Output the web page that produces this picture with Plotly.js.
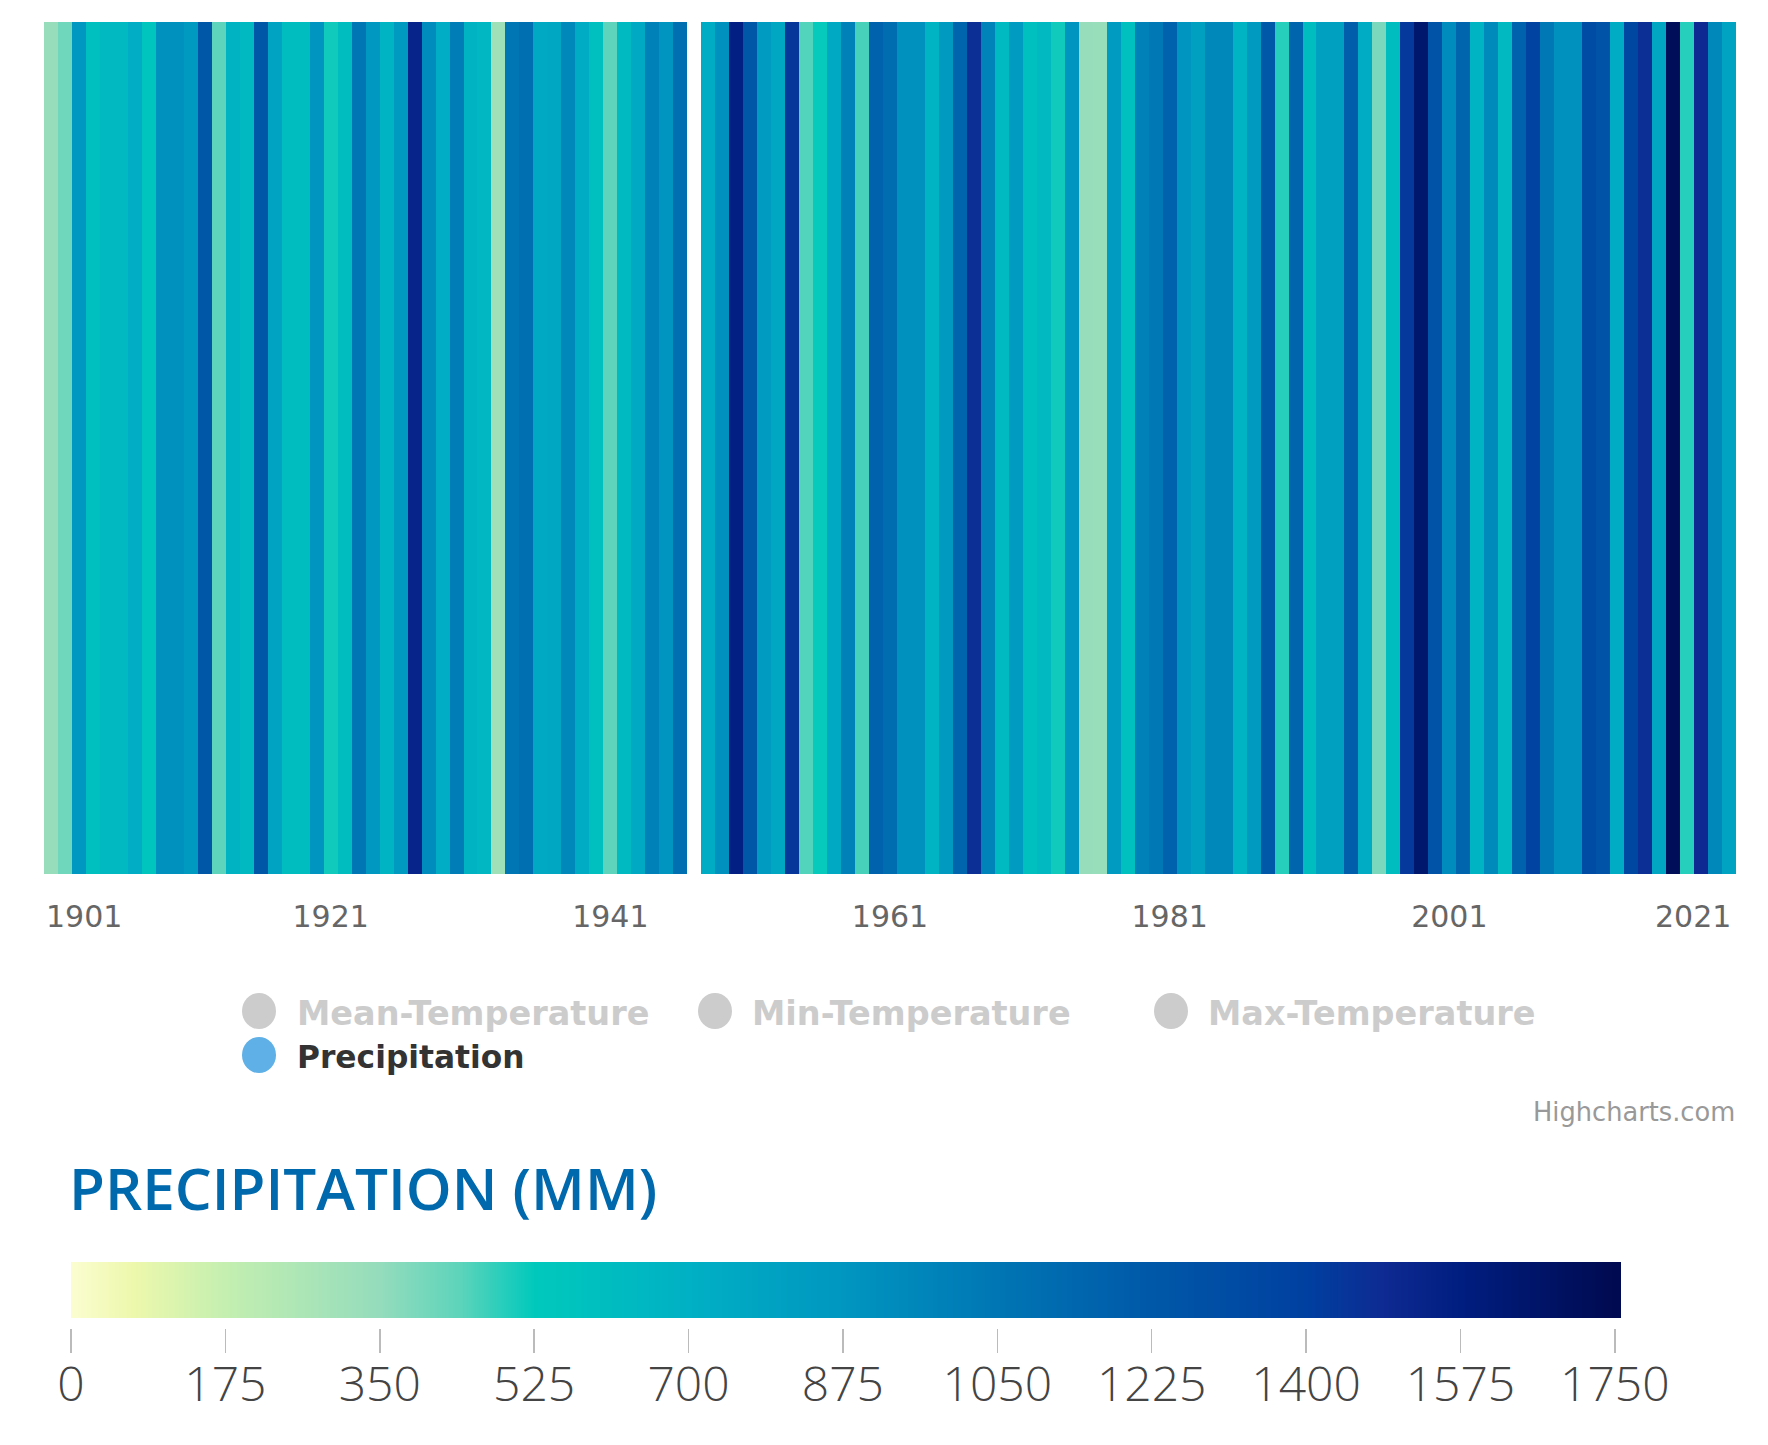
<!DOCTYPE html>
<html>
<head>
<meta charset="utf-8">
<script src="https://cdn.plot.ly/plotly-3.0.1.min.js"></script>
<style>html,body{margin:0;padding:0;background:#fff}#chart{width:1768px;height:1445px}</style>
</head>
<body>
<div id="chart"></div>
<script>
var years = [];
for (var yr = 1901; yr <= 2021; yr++) years.push(yr);

var precipitation = [
  340,410,860,590,640,640,720,560,900,900,850,1240,440,680,640,1235,790,610,610,880,
  510,600,1050,860,670,850,1530,930,720,1010,680,650,310,1050,1090,750,760,950,730,590,
  440,630,750,990,880,1090,null,730,900,1560,1230,840,760,1440,450,520,750,990,460,1170,
  1100,900,900,670,850,1150,1470,980,630,840,590,640,510,880,340,330,840,590,990,1040,
  1170,880,810,950,950,670,850,1220,490,1150,610,810,810,1190,730,390,610,1430,1640,1260,
  930,1150,670,940,640,1170,1380,1040,900,900,1320,1260,730,1350,1470,770,1720,490,1490,950,790
];

var axisYears = [1921, 1941, 1961, 1981, 2001];
var endYears = ['1901', '2021'];
var scaleTicks = [0, 175, 350, 525, 700, 875, 1050, 1225, 1400, 1575, 1750];
var scaleMax = 1757;
var stopValues = [0, 70, 175, 350, 440, 525, 700, 875, 1050, 1225, 1400, 1490, 1575, 1750, 1757];
var stopColors = ['#fbfdd0', '#edf8ac', '#c4efb0', '#94dcbc', '#5dd4bb', '#00c9bc', '#00b0c4', '#0096c0',
                  '#0076b4', '#0058a8', '#0040a0', '#0e2a92', '#001e80', '#000a50', '#000a50'];

var legendOff = ['Mean-Temperature', 'Min-Temperature', 'Max-Temperature'];
var legendOn = 'Precipitation';
var chartTitle = 'PRECIPITATION (MM)';
var creditText = 'Highcharts.com';

var W = 1768, H = 1445;
function px(x) { return x / W; }
function py(y) { return 1 - y / H; }

var colorscale = stopValues.map(function (v, i) { return [v / scaleMax, stopColors[i]]; });
var gradientX = scaleTicks.concat([scaleMax]);

var traces = [
  { type: 'heatmap', x: years, y: [0], z: [precipitation], coloraxis: 'coloraxis',
    xaxis: 'x', yaxis: 'y', xgap: 0, ygap: 0, zsmooth: false, hoverinfo: 'x+z' },
  { type: 'heatmap', x: gradientX, y: [0, 1], z: [gradientX, gradientX], coloraxis: 'coloraxis',
    xaxis: 'x2', yaxis: 'y2', zsmooth: 'best', hoverinfo: 'skip' }
];

function legendDot(cx, cy, color) {
  return { type: 'circle', xref: 'paper', yref: 'paper', x0: px(cx - 17), x1: px(cx + 17),
           y0: py(cy + 18), y1: py(cy - 18), fillcolor: color, line: { width: 0 } };
}
function legendText(text, x, y, color, size) {
  return { text: text, xref: 'paper', yref: 'paper', x: px(x), y: py(y), xanchor: 'left', yanchor: 'middle',
           showarrow: false, borderpad: 0,
           font: { family: 'DejaVu Sans', size: size, weight: 700, color: color } };
}
var tickFont = { family: 'DejaVu Sans', size: 30, color: '#666666' };

var layout = {
  width: W, height: H,
  margin: { l: 0, r: 0, t: 0, b: 0, pad: 0 },
  paper_bgcolor: '#ffffff', plot_bgcolor: '#ffffff',
  showlegend: false,
  title: { text: chartTitle, x: px(69), xref: 'paper', xanchor: 'left', y: py(1190), yref: 'paper', yanchor: 'middle',
           pad: { t: 0, b: 0, l: 0, r: 0 },
           font: { family: 'Open Sans', size: 58.4, weight: 600, color: '#0069ad' } },
  coloraxis: { colorscale: colorscale, cmin: 0, cmax: scaleMax, showscale: false },
  xaxis: { domain: [px(44), px(1736)], range: [1900.5, 2021.5], tickmode: 'array', tickvals: axisYears,
           ticktext: axisYears.map(String), ticks: '', showgrid: false, zeroline: false, showline: false,
           tickfont: tickFont, ticklabelstandoff: 22 },
  yaxis: { domain: [py(874), py(22)], range: [-0.5, 0.5], visible: false },
  xaxis2: { domain: [px(71), px(1621)], range: [0, scaleMax], anchor: 'free', position: py(1328), side: 'bottom',
            tickmode: 'array', tickvals: scaleTicks, ticktext: scaleTicks.map(String),
            ticks: 'outside', ticklen: 24, tickwidth: 1.5, tickcolor: '#bbbbbb',
            showgrid: false, zeroline: false, showline: false,
            tickfont: { family: 'Open Sans', size: 48, weight: 300, color: '#444444' }, ticklabelstandoff: -10 },
  yaxis2: { domain: [py(1318), py(1262)], range: [0, 1], visible: false, anchor: 'x2' },
  shapes: [
    legendDot(259, 1011, '#cccccc'), legendDot(715, 1011, '#cccccc'), legendDot(1171, 1011, '#cccccc'),
    legendDot(259, 1055, '#5fb0e6')
  ],
  annotations: [
    { text: endYears[0], xref: 'paper', yref: 'paper', x: px(44), y: py(917), xanchor: 'left', yanchor: 'middle', showarrow: false, font: tickFont },
    { text: endYears[1], xref: 'paper', yref: 'paper', x: px(1733), y: py(917), xanchor: 'right', yanchor: 'middle', showarrow: false, font: tickFont },
    legendText(legendOff[0], 296, 1013, '#cccccc', 33.5),
    legendText(legendOff[1], 751, 1013, '#cccccc', 33.5),
    legendText(legendOff[2], 1207, 1013, '#cccccc', 33.5),
    legendText(legendOn, 296, 1057, '#333333', 31.3),
    { text: creditText, xref: 'paper', yref: 'paper', x: px(1737), y: py(1112), xanchor: 'right', yanchor: 'middle',
      showarrow: false, font: { family: 'DejaVu Sans', size: 25.7, color: '#999999' } }
  ]
};

Plotly.newPlot('chart', traces, layout, { displayModeBar: false, staticPlot: true });
</script>
</body>
</html>
